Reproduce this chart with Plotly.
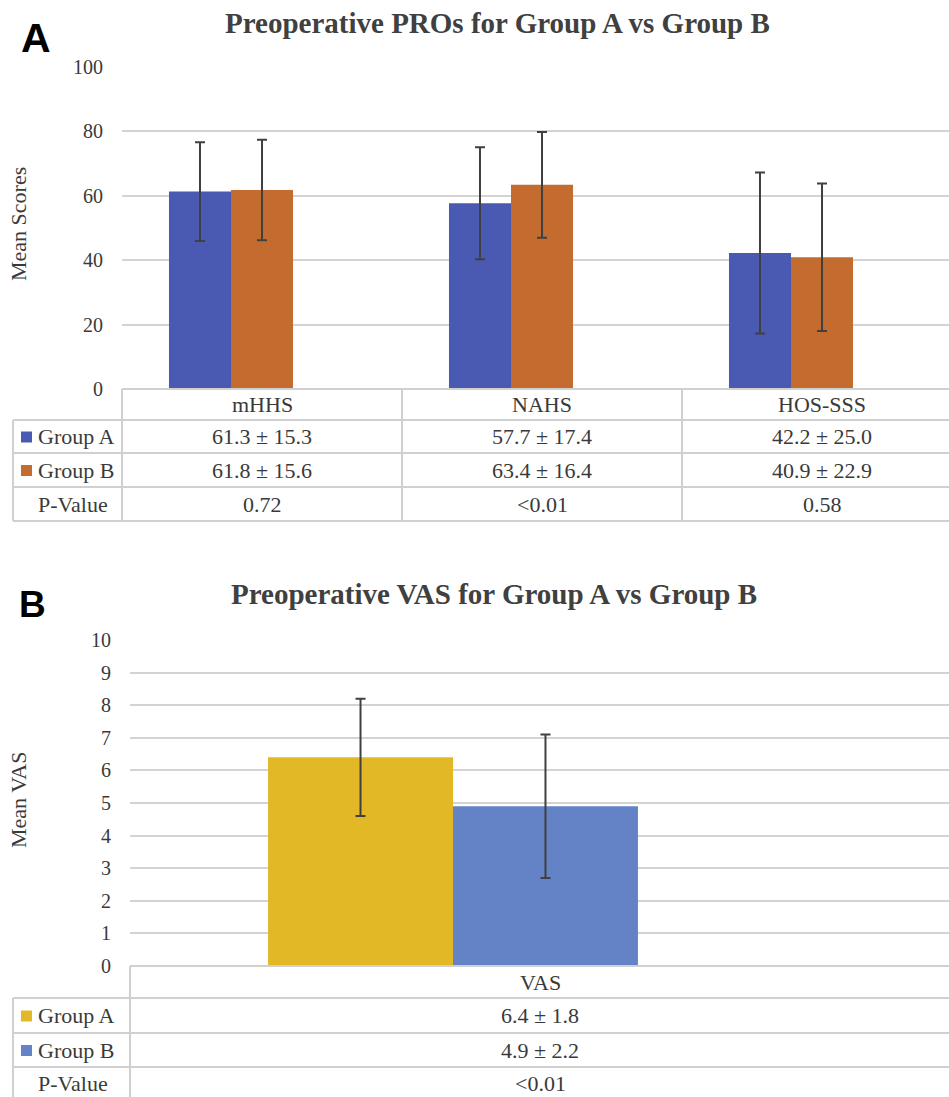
import plotly.graph_objects as go

# ---------------- data ----------------
pro_categories = ["mHHS", "NAHS", "HOS-SSS"]
pro_group_a_mean = [61.3, 57.7, 42.2]
pro_group_a_sd = [15.3, 17.4, 25.0]
pro_group_b_mean = [61.8, 63.4, 40.9]
pro_group_b_sd = [15.6, 16.4, 22.9]
pro_p_values = ["0.72", "<0.01", "0.58"]
pro_y_ticks = [0, 20, 40, 60, 80, 100]

vas_categories = ["VAS"]
vas_group_a_mean = [6.4]
vas_group_a_sd = [1.8]
vas_group_b_mean = [4.9]
vas_group_b_sd = [2.2]
vas_p_values = ["<0.01"]
vas_y_ticks = list(range(0, 11))

row_labels = ["Group A", "Group B", "P-Value"]

# ---------------- style ----------------
W, H = 949, 1097
SERIF = "Liberation Serif, Times New Roman, serif"
SANS = "Liberation Sans, Arial, sans-serif"
TXT = "#3a3a3a"
GRID = "#d3d3d3"
TBL = "#d0d0d0"
A_BLUE = "#4a59b2"
B_ORANGE = "#c46c30"
A_GOLD = "#e3b827"
B_BLUE = "#6483c6"
ERR = "#404040"


def py(y):
    return 1 - y / H


def px(x):
    return x / W


fig = go.Figure()

err = dict(type="data", color=ERR, thickness=2, width=5)

# Panel A bars
fig.add_trace(go.Bar(
    x=pro_categories, y=pro_group_a_mean, name="Group A",
    marker=dict(color=A_BLUE, line=dict(width=0)),
    error_y=dict(err, array=pro_group_a_sd),
    xaxis="x", yaxis="y", showlegend=False))
fig.add_trace(go.Bar(
    x=pro_categories, y=pro_group_b_mean, name="Group B",
    marker=dict(color=B_ORANGE, line=dict(width=0)),
    error_y=dict(err, array=pro_group_b_sd),
    xaxis="x", yaxis="y", showlegend=False))

# Panel B bars
fig.add_trace(go.Bar(
    x=vas_categories, y=vas_group_a_mean, name="Group A",
    marker=dict(color=A_GOLD, line=dict(width=0)),
    error_y=dict(err, array=vas_group_a_sd),
    xaxis="x2", yaxis="y2", showlegend=False))
fig.add_trace(go.Bar(
    x=vas_categories, y=vas_group_b_mean, name="Group B",
    marker=dict(color=B_BLUE, line=dict(width=0)),
    error_y=dict(err, array=vas_group_b_sd),
    xaxis="x2", yaxis="y2", showlegend=False))

# geometry (pixels)
A_LEFT, A_TOP, A_BOT = 122, 67, 389
B_LEFT, B_TOP, B_BOT = 130, 640, 966
TBL_LEFT = 13
# bar-group placement in plot A: first group centred at 231 px, 280 px per category
A_BAR0, A_CAT_W = 231, 280
# plot B: group centred at 453 px, 835 px per category
B_BAR0, B_CAT_W = 453, 835
# table cells
A_CELL_W = 280
B_CELL_W = 820

a_range = [-(A_BAR0 - A_LEFT) / A_CAT_W, (W - A_BAR0) / A_CAT_W]
b_range = [-(B_BAR0 - B_LEFT) / B_CAT_W, (W - B_BAR0) / B_CAT_W]

ax_common = dict(automargin=False)

fig.update_layout(
    width=W, height=H,
    margin=dict(l=0, r=0, t=0, b=0, pad=0, autoexpand=False),
    paper_bgcolor="white", plot_bgcolor="white",
    barmode="group", bargap=0.557, bargroupgap=0,
    showlegend=False,
    font=dict(family=SERIF, color=TXT, size=20),
    xaxis=dict(ax_common, domain=[px(A_LEFT), 1], anchor="y", type="category",
               categoryorder="array", categoryarray=pro_categories,
               range=a_range, showticklabels=False,
               showgrid=False, zeroline=False, showline=False, ticks=""),
    yaxis=dict(ax_common, domain=[py(A_BOT), py(A_TOP)], anchor="x", range=[0, 100],
               tickvals=pro_y_ticks, showgrid=True, gridcolor=GRID, gridwidth=1.6,
               zeroline=False, showline=False, ticks="",
               ticklabelstandoff=18,
               tickfont=dict(family=SERIF, size=20, color=TXT)),
    xaxis2=dict(ax_common, domain=[px(B_LEFT), 1], anchor="y2", type="category",
                range=b_range, showticklabels=False,
                showgrid=False, zeroline=False, showline=False, ticks=""),
    yaxis2=dict(ax_common, domain=[py(B_BOT), py(B_TOP)], anchor="x2", range=[0, 10],
                tickvals=vas_y_ticks, showgrid=True, gridcolor=GRID, gridwidth=1.6,
                zeroline=False, showline=False, ticks="",
                ticklabelstandoff=18,
                tickfont=dict(family=SERIF, size=20, color=TXT)),
)

shapes = []
annotations = []


def hline(x0, x1, y):
    shapes.append(dict(type="line", xref="paper", yref="paper",
                       x0=px(x0), x1=px(x1), y0=py(y), y1=py(y),
                       line=dict(color=TBL, width=2)))


def vline(x, y0, y1):
    shapes.append(dict(type="line", xref="paper", yref="paper",
                       x0=px(x), x1=px(x), y0=py(y0), y1=py(y1),
                       line=dict(color=TBL, width=2)))


def text(x, y, s, size=22, xanchor="center", family=SERIF,
         color=TXT, bold=False, angle=0):
    annotations.append(dict(x=px(x), y=py(y), xref="paper", yref="paper", text=s,
                            showarrow=False, xanchor=xanchor, yanchor="middle",
                            textangle=angle,
                            font=dict(family=family, size=size, color=color,
                                      weight="bold" if bold else "normal")))


# ---------- Panel A table ----------
a_rows = [389, 420, 453, 487, 521]
hline(A_LEFT, W, a_rows[0])
for yy in a_rows[1:]:
    hline(TBL_LEFT, W, yy)
vline(A_LEFT, a_rows[0], a_rows[-1])
vline(TBL_LEFT, a_rows[1], a_rows[-1])
for i in range(1, len(pro_categories)):
    vline(A_LEFT + i * A_CELL_W, a_rows[0], a_rows[-1])

a_centers = [(a_rows[k] + a_rows[k + 1]) / 2 for k in range(4)]
for i, cat in enumerate(pro_categories):
    cx = A_LEFT + A_CELL_W * (i + 0.5)
    text(cx, a_centers[0], cat)
    text(cx, a_centers[1], f"{pro_group_a_mean[i]:.1f} \u00b1 {pro_group_a_sd[i]:.1f}")
    text(cx, a_centers[2], f"{pro_group_b_mean[i]:.1f} \u00b1 {pro_group_b_sd[i]:.1f}")
    text(cx, a_centers[3], pro_p_values[i])

for k, (lab, col) in enumerate(zip(row_labels, [A_BLUE, B_ORANGE, None])):
    yc = a_centers[k + 1]
    if col:
        shapes.append(dict(type="rect", xref="paper", yref="paper",
                           x0=px(21), x1=px(32), y0=py(yc + 6), y1=py(yc - 5),
                           fillcolor=col, line=dict(width=0)))
    text(36, yc, lab, xanchor="left")

# ---------- Panel B table ----------
b_rows = [966, 998, 1033, 1067, 1100]
hline(B_LEFT, W, b_rows[0])
for yy in b_rows[1:-1]:
    hline(TBL_LEFT, W, yy)
vline(B_LEFT, b_rows[0], H)
vline(TBL_LEFT, b_rows[1], H)

b_centers = [(b_rows[k] + b_rows[k + 1]) / 2 for k in range(4)]
for i, cat in enumerate(vas_categories):
    cx = B_LEFT + B_CELL_W * (i + 0.5)
    text(cx, b_centers[0], cat)
    text(cx, b_centers[1], f"{vas_group_a_mean[i]:.1f} \u00b1 {vas_group_a_sd[i]:.1f}")
    text(cx, b_centers[2], f"{vas_group_b_mean[i]:.1f} \u00b1 {vas_group_b_sd[i]:.1f}")
    text(cx, b_centers[3], vas_p_values[i])

for k, (lab, col) in enumerate(zip(row_labels, [A_GOLD, B_BLUE, None])):
    yc = b_centers[k + 1]
    if col:
        shapes.append(dict(type="rect", xref="paper", yref="paper",
                           x0=px(21), x1=px(32), y0=py(yc + 6), y1=py(yc - 5),
                           fillcolor=col, line=dict(width=0)))
    text(36, yc, lab, xanchor="left")

# ---------- titles, panel letters, axis titles ----------
text(497, 23, "Preoperative PROs for Group A vs Group B", size=29, bold=True, color="#404040")
text(494, 594, "Preoperative VAS for Group A vs Group B", size=29, bold=True, color="#404040")
text(19, 38, "A", size=41, bold=True, family=SANS, color="#000000", xanchor="left")
text(17, 604, "B", size=37, bold=True, family=SANS, color="#000000", xanchor="left")
text(18, 224, "Mean Scores", size=22, angle=-90)
text(18, 800, "Mean VAS", size=22, angle=-90)

fig.update_layout(shapes=shapes, annotations=annotations)
fig.write_html("out.html")
